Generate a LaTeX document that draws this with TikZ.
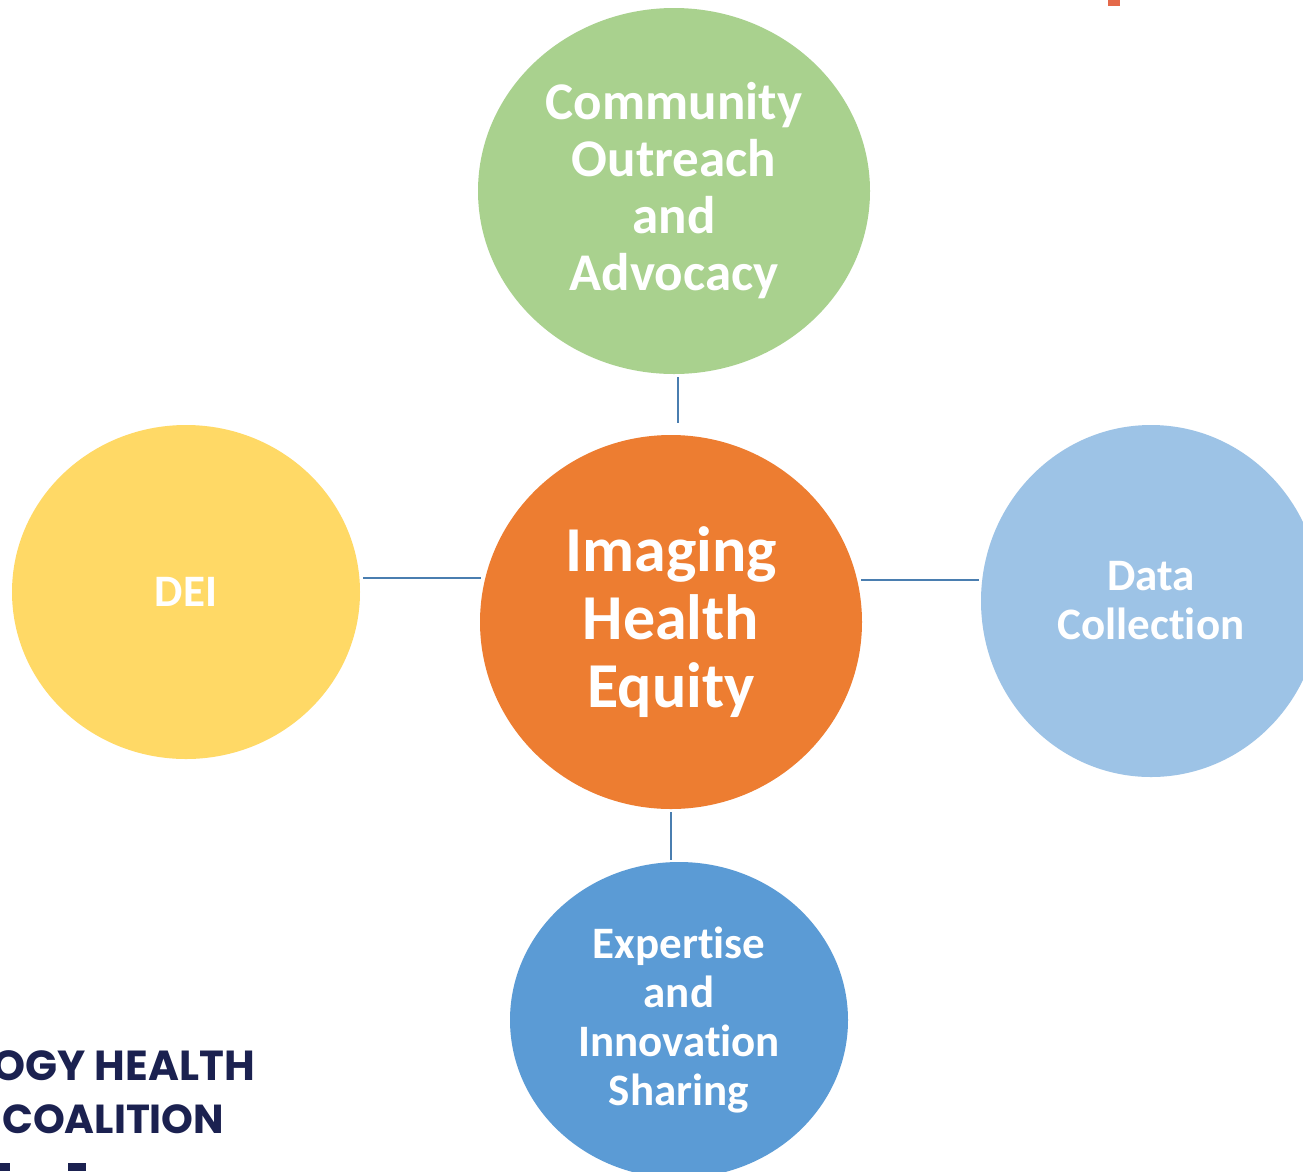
\documentclass[tikz,border=0pt]{standalone}
\usepackage{fontspec}
\setmainfont{Carlito}[Ligatures={NoCommon,NoRare}]
\newfontfamily\logofont{Poppins}
\usetikzlibrary{shapes.geometric}
\definecolor{cgreen}{HTML}{A9D18E}
\definecolor{corange}{HTML}{ED7D31}
\definecolor{cyellow}{HTML}{FFD966}
\definecolor{clblue}{HTML}{9DC3E6}
\definecolor{cblue}{HTML}{5B9BD5}
\definecolor{cline}{HTML}{4A7EB0}
\definecolor{cnavy}{HTML}{1B2150}
\definecolor{cmark}{HTML}{E4694A}
\tikzset{
  bubble/.style={ellipse, inner sep=0pt, text=white, align=center, font=\bfseries},
  conn/.style={draw=cline, line width=2.2pt},
  logotext/.style={text=cnavy, inner sep=0pt, font={\logofont\bfseries\fontsize{42}{52}\selectfont}}
}
\begin{document}
\begin{tikzpicture}[x=1pt,y=-1pt]
\useasboundingbox (0,0) rectangle (1303,1171);
\clip (0,0) rectangle (1303,1171);
\fill[white] (0,0) rectangle (1303,1171);
% ellipses
\node[bubble, fill=cgreen, minimum width=392pt, minimum height=366pt,
  font={\bfseries\fontsize{53}{57}\selectfont}] (green) at (674,191)
  {Community\\Outreach\\and\\Advocacy};
\node[bubble, fill=corange, minimum width=382pt, minimum height=374pt,
  font={\bfseries\fontsize{64}{68}\selectfont}] (orange) at (671,622)
  {Imaging\\Health\\Equity};
\node[bubble, fill=cyellow, minimum width=348pt, minimum height=334pt,
  font={\bfseries\fontsize{45}{49}\selectfont}] (yellow) at (186,592) {DEI};
\node[bubble, fill=clblue, minimum width=340pt, minimum height=352pt,
  font={\bfseries\fontsize{45}{49}\selectfont}] (lblue) at (1151,601)
  {Data\\Collection};
\node[bubble, fill=cblue, minimum width=338pt, minimum height=316pt,
  font={\bfseries\fontsize{45}{49.3}\selectfont}] (blue) at (679,1020)
  {Expertise\\and\\Innovation\\Sharing};
% connectors
\coordinate (ta) at (678,377); \coordinate (tb) at (678,423);
\coordinate (la) at (363,578); \coordinate (lb) at (481,578);
\coordinate (ra) at (861,580); \coordinate (rb) at (979,580);
\coordinate (ba) at (671,812); \coordinate (bb) at (671,860);
\draw[conn] (ta) -- (tb);
\draw[conn] (la) -- (lb);
\draw[conn] (ra) -- (rb);
\draw[conn] (ba) -- (bb);
% logo fragments
\node[logotext, anchor=base east] (logo1) at (255,1080) {OGY HEALTH};
\node[logotext, anchor=base west, font={\logofont\bfseries\fontsize{40.5}{52}\selectfont}] (logo2) at (2,1133) {COALITION};
\fill[cnavy] (0,1163) rectangle (10,1171);
\fill[cnavy] (68,1163) rectangle (86,1171);
\fill[cmark] (1108,0) rectangle (1120,6);
\end{tikzpicture}
\end{document}
